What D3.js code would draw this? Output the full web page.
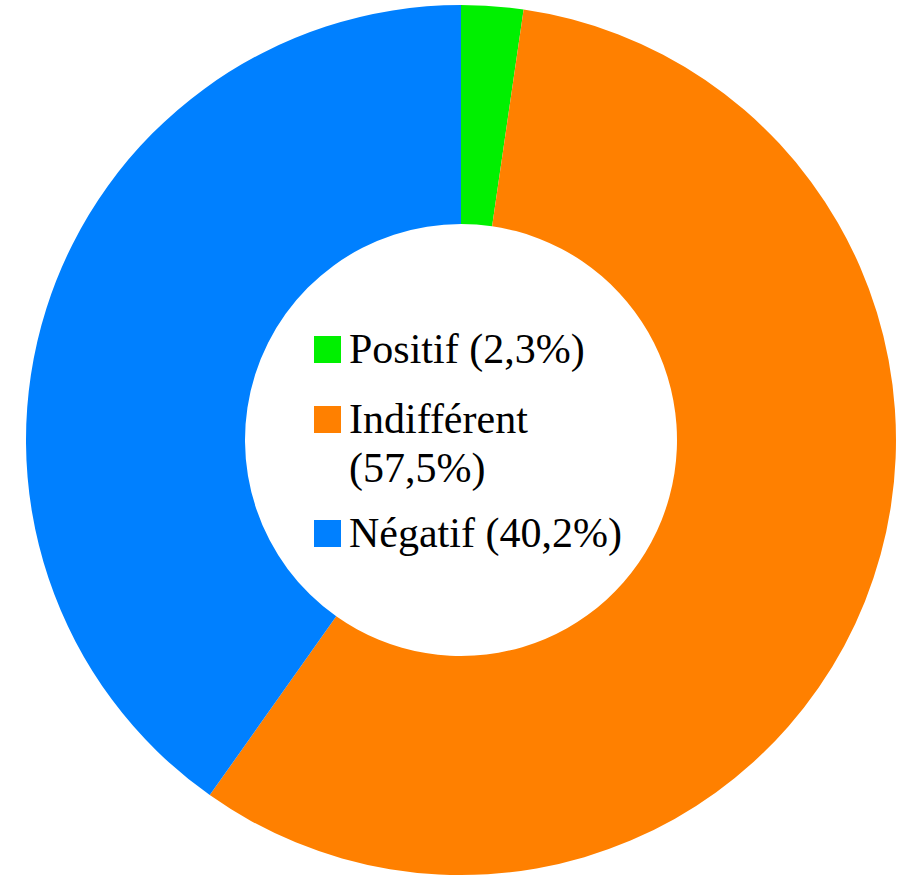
<!DOCTYPE html>
<html>
<head>
<meta charset="utf-8">
<script src="https://cdn.jsdelivr.net/npm/d3@7"></script>
</head>
<body style="margin:0;background:#fff">
<div id="wrap" style="position:relative;width:899px;height:878px"></div>
<script>
const categories = ["Positif", "Indifférent", "Négatif"];
const values = [2.3, 57.5, 40.2];
const colors = ["#00F000", "#FF8000", "#0080FF"];
const legendLines = [["Positif (2,3%)"], ["Indifférent", "(57,5%)"], ["Négatif (40,2%)"]];

const W = 899, H = 878;
const cx = 461, cy = 440, rOuter = 435, rInner = 216;

const wrap = d3.select("#wrap");
const svg = wrap.append("svg").attr("width", W).attr("height", H)
  .attr("style", "position:absolute;left:0;top:0;display:block");
const g = svg.append("g").attr("transform", `translate(${cx},${cy})`);

const pie = d3.pie().sort(null).value(d => d)(values);
const arc = d3.arc().innerRadius(rInner).outerRadius(rOuter);

g.selectAll("path").data(pie).join("path")
  .attr("d", arc)
  .attr("fill", (d, i) => colors[i]);

const itemBase = [363, 433, 547];
const lineH = 49;
const sq = 27;
categories.forEach((c, i) => {
  const by = itemBase[i];
  svg.append("rect").attr("x", 314).attr("y", by - sq).attr("width", sq).attr("height", sq)
    .attr("fill", colors[i]);
  legendLines[i].forEach((t, j) => {
    wrap.append("div")
      .attr("style", `position:absolute;left:349px;top:${by + j * lineH - 35}px;font-size:42px;line-height:42px;font-family:'Liberation Serif';color:#000;white-space:nowrap`)
      .text(t);
  });
});
</script>
</body>
</html>
